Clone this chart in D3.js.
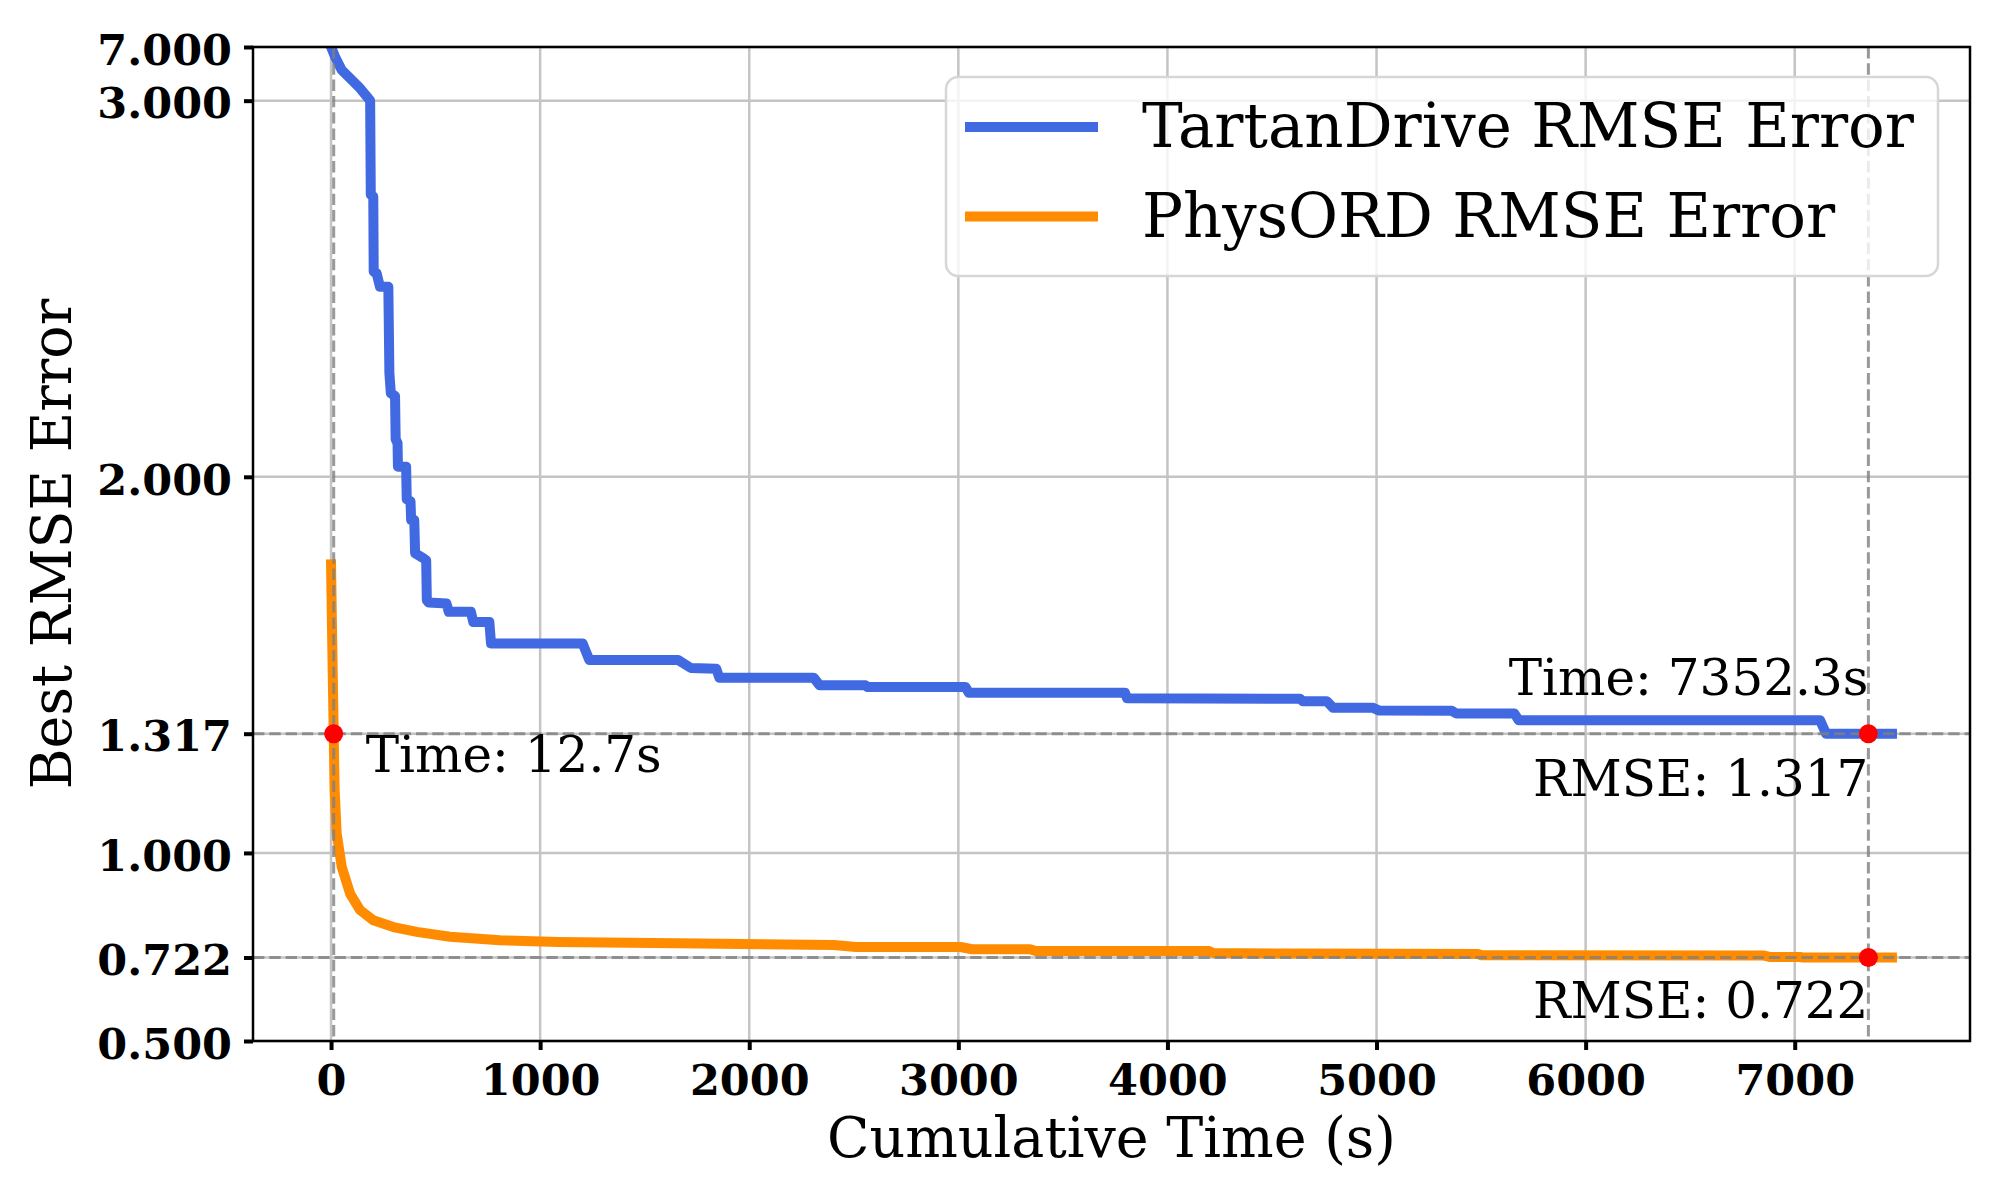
<!DOCTYPE html>
<html>
<head>
<meta charset="utf-8">
<script src="https://cdn.jsdelivr.net/npm/d3@7"></script>
<style>
  html, body { margin: 0; padding: 0; background: #fff; }
  svg { display: block; }
  text { font-family: "DejaVu Serif", serif; }
</style>
</head>
<body>
<svg id="chart" width="2000" height="1200"></svg>
<script>
// ---------------- data ----------------
const tartanTime = [0, 19, 51, 91, 139, 178, 187, 190, 202, 204, 218, 234, 274, 279, 286, 306, 309, 318, 320, 359, 362, 380, 383, 398, 402, 440, 455, 458, 467, 552, 563, 669, 680, 757, 765, 1203, 1235, 1660, 1720, 1842, 1857, 2308, 2336, 2555, 2565, 3035, 3050, 3797, 3807, 4634, 4648, 4763, 4792, 4983, 5010, 5360, 5380, 5659, 5680, 7121, 7150, 7465];
const tartanRMSE = [7.0, 6.28, 5.29, 4.67, 3.92, 3.18, 3.0, 2.75, 2.745, 2.545, 2.541, 2.505, 2.505, 2.276, 2.222, 2.215, 2.10, 2.09, 2.027, 2.027, 1.94, 1.935, 1.885, 1.885, 1.797, 1.784, 1.778, 1.672, 1.666, 1.663, 1.641, 1.641, 1.614, 1.614, 1.557, 1.557, 1.513, 1.513, 1.492, 1.490, 1.466, 1.466, 1.446, 1.446, 1.441, 1.441, 1.426, 1.426, 1.411, 1.410, 1.403, 1.403, 1.386, 1.386, 1.379, 1.378, 1.371, 1.371, 1.353, 1.353, 1.317, 1.317];

const physTime = [0, 4, 8, 12.7, 17, 27, 51, 91, 139, 202, 298, 410, 569, 808, 1085, 1765, 2405, 2510, 3010, 3066, 3343, 3370, 4199, 4220, 4600, 5487, 5500, 6854, 6880, 7025, 7040, 7465];
const physRMSE = [1.767, 1.62, 1.48, 1.317, 1.17, 1.052, 0.963, 0.892, 0.848, 0.821, 0.803, 0.790, 0.777, 0.768, 0.763, 0.759, 0.755, 0.750, 0.750, 0.744, 0.744, 0.739, 0.739, 0.734, 0.7325, 0.7315, 0.728, 0.727, 0.7234, 0.7234, 0.722, 0.722];

const seriesNames = ["TartanDrive RMSE Error", "PhysORD RMSE Error"];
const seriesColors = ["#4169E1", "#FF8C00"];

const xTicks = [0, 1000, 2000, 3000, 4000, 5000, 6000, 7000];
const yTicks = [0.5, 0.722, 1.0, 1.317, 2.0, 3.0, 7.0];
const yBreaks = [0.5, 3.0, 7.0];

const markTimes = [12.7, 7352.3];
const markRMSE = [1.317, 0.722];
const markPoints = [[12.7, 1.317], [7352.3, 1.317], [7352.3, 0.722]];

const xLabel = "Cumulative Time (s)";
const yLabel = "Best RMSE Error";

// ---------------- layout ----------------
const pL = 253, pR = 1970, pT = 47, pB = 1041;
const svg = d3.select("#chart");

const xMaxData = d3.max(tartanTime);
const xPad = 0.05 * xMaxData;
const x = d3.scaleLinear().domain([-xPad, xMaxData + xPad]).range([pL, pR]);
const pH = pB - pT;
const y = d3.scaleLinear().domain(yBreaks).range([pB, pB - 0.946 * pH, pT]);

// grid
const grid = svg.append("g");
grid.selectAll("line.gx").data(xTicks).enter().append("line")
  .attr("x1", d => x(d)).attr("x2", d => x(d)).attr("y1", pT).attr("y2", pB)
  .attr("stroke", "#c4c4c4").attr("stroke-width", 2.5);
grid.selectAll("line.gy").data(yTicks).enter().append("line")
  .attr("x1", pL).attr("x2", pR).attr("y1", d => y(d)).attr("y2", d => y(d))
  .attr("stroke", "#c4c4c4").attr("stroke-width", 2.5);

// clip
svg.append("defs").append("clipPath").attr("id", "clip")
  .append("rect").attr("x", pL).attr("y", pT).attr("width", pR - pL).attr("height", pH);

const plot = svg.append("g").attr("clip-path", "url(#clip)");
const line = d3.line().x(d => x(d[0])).y(d => y(d[1]));

const series = [
  d3.zip(tartanTime, tartanRMSE),
  d3.zip(physTime, physRMSE)
];
series.forEach((s, i) => {
  plot.append("path").datum(s).attr("d", line)
    .attr("fill", "none").attr("stroke", seriesColors[i])
    .attr("stroke-width", 10).attr("stroke-linejoin", "round").attr("stroke-linecap", "square");
});

// reference dashed lines
const refs = svg.append("g").attr("clip-path", "url(#clip)");
markRMSE.forEach(v => {
  refs.append("line").attr("x1", pL).attr("x2", pR).attr("y1", y(v)).attr("y2", y(v))
    .attr("stroke", "#808080").attr("stroke-opacity", 0.8).attr("stroke-width", 3).attr("stroke-dasharray", "11.4,4.9");
});
markTimes.forEach(t => {
  refs.append("line").attr("x1", x(t)).attr("x2", x(t)).attr("y1", pT).attr("y2", pB)
    .attr("stroke", "#808080").attr("stroke-opacity", 0.8).attr("stroke-width", 3).attr("stroke-dasharray", "11.4,4.9");
});

// dots
svg.append("g").selectAll("circle").data(markPoints).enter().append("circle")
  .attr("cx", d => x(d[0])).attr("cy", d => y(d[1])).attr("r", 9.5).attr("fill", "#ff0000");

// annotations
const ann = svg.append("g").attr("font-size", 50).attr("fill", "#000");
ann.append("text").attr("x", x(markPoints[0][0]) + 32).attr("y", y(markPoints[0][1]) + 38)
  .text("Time: " + markPoints[0][0] + "s");
ann.append("text").attr("x", x(markPoints[1][0])).attr("y", y(markPoints[1][1]) - 39)
  .attr("text-anchor", "end").text("Time: " + markPoints[1][0] + "s");
ann.append("text").attr("x", x(markPoints[1][0])).attr("y", y(markPoints[1][1]) + 62)
  .attr("text-anchor", "end").text("RMSE: " + markPoints[1][1].toFixed(3));
ann.append("text").attr("x", x(markPoints[2][0])).attr("y", y(markPoints[2][1]) + 61)
  .attr("text-anchor", "end").text("RMSE: " + markPoints[2][1].toFixed(3));

// axes
const xAxis = svg.append("g").attr("transform", `translate(0,${pB})`)
  .call(d3.axisBottom(x).tickValues(xTicks).tickFormat(d3.format("d")).tickSize(9).tickPadding(14));
const yAxis = svg.append("g").attr("transform", `translate(${pL},0)`)
  .call(d3.axisLeft(y).tickValues(yTicks).tickFormat(d3.format(".3f")).tickSize(9).tickPadding(12));
[xAxis, yAxis].forEach(a => {
  a.select(".domain").remove();
  a.selectAll(".tick line").attr("stroke", "#000").attr("stroke-width", 4);
  a.selectAll(".tick text").attr("font-family", "DejaVu Serif").attr("font-weight", "bold")
    .attr("font-size", 43).attr("fill", "#000");
});
xAxis.selectAll(".tick text").attr("y", 54).attr("dy", 0);
yAxis.selectAll(".tick text").attr("dy", "0.4em");

// spines
svg.append("rect").attr("x", pL).attr("y", pT).attr("width", pR - pL).attr("height", pH)
  .attr("fill", "none").attr("stroke", "#000").attr("stroke-width", 2.5);

// axis labels
svg.append("text").attr("x", (pL + pR) / 2).attr("y", 1157).attr("text-anchor", "middle")
  .attr("font-size", 55.5).text(xLabel);
svg.append("text").attr("transform", `translate(71,${(pT + pB) / 2}) rotate(-90)`)
  .attr("text-anchor", "middle").attr("font-size", 55.5).text(yLabel);

// legend
const lg = svg.append("g");
lg.append("rect").attr("x", 946).attr("y", 77).attr("width", 992).attr("height", 199).attr("rx", 12)
  .attr("fill", "#fff").attr("fill-opacity", 0.8).attr("stroke", "#d6d6d6").attr("stroke-width", 2.5);
seriesNames.forEach((name, i) => {
  const yy = 127 + i * 89.5;
  lg.append("line").attr("x1", 965).attr("x2", 1098).attr("y1", yy).attr("y2", yy)
    .attr("stroke", seriesColors[i]).attr("stroke-width", 10);
  lg.append("text").attr("x", 1142).attr("y", yy + 20).attr("font-size", 61).text(name);
});
</script>
</body>
</html>
